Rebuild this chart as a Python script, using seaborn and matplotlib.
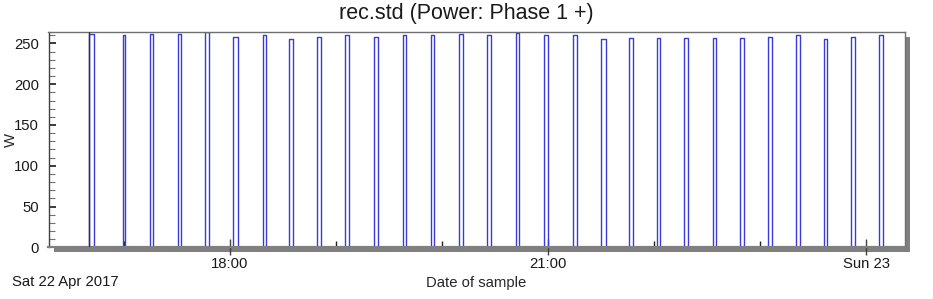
import matplotlib
matplotlib.use("Agg")
import matplotlib.pyplot as plt
import matplotlib.dates as mdates
import matplotlib.ticker as mticker
from matplotlib.patches import Rectangle
import pandas as pd
import seaborn as sns

# ---- data ----
pulse_on = [
    "2017-04-22 16:40:30", "2017-04-22 16:59:20", "2017-04-22 17:14:50", "2017-04-22 17:30:50",
    "2017-04-22 17:45:55", "2017-04-22 18:01:55", "2017-04-22 18:18:50", "2017-04-22 18:33:25",
    "2017-04-22 18:49:00", "2017-04-22 19:05:00", "2017-04-22 19:21:35", "2017-04-22 19:37:40",
    "2017-04-22 19:53:30", "2017-04-22 20:09:40", "2017-04-22 20:25:40", "2017-04-22 20:41:40",
    "2017-04-22 20:57:40", "2017-04-22 21:14:05", "2017-04-22 21:30:10", "2017-04-22 21:45:50",
    "2017-04-22 22:01:20", "2017-04-22 22:16:55", "2017-04-22 22:33:00", "2017-04-22 22:48:25",
    "2017-04-22 23:04:25", "2017-04-22 23:20:05", "2017-04-22 23:35:55", "2017-04-22 23:51:10",
    "2017-04-23 00:07:10",
]
pulse_off = [
    "2017-04-22 16:43:05", "2017-04-22 17:00:35", "2017-04-22 17:16:20", "2017-04-22 17:32:05",
    "2017-04-22 17:48:05", "2017-04-22 18:04:20", "2017-04-22 18:20:10", "2017-04-22 18:35:30",
    "2017-04-22 18:51:30", "2017-04-22 19:07:20", "2017-04-22 19:23:30", "2017-04-22 19:39:30",
    "2017-04-22 19:55:25", "2017-04-22 20:11:35", "2017-04-22 20:27:35", "2017-04-22 20:43:35",
    "2017-04-22 21:00:00", "2017-04-22 21:16:05", "2017-04-22 21:32:30", "2017-04-22 21:48:05",
    "2017-04-22 22:03:10", "2017-04-22 22:19:10", "2017-04-22 22:35:10", "2017-04-22 22:50:40",
    "2017-04-22 23:06:40", "2017-04-22 23:22:20", "2017-04-22 23:38:00", "2017-04-22 23:53:50",
    "2017-04-23 00:09:30",
]
pulse_peak = [261, 260, 262, 261, 264, 258, 260, 255, 258, 260, 258, 260, 260, 261, 260,
              263, 260, 260, 256, 257, 257, 257, 257, 257, 258, 260, 256, 258, 260]
series_end = "2017-04-23 00:11:10"
marker_time = "2017-04-22 16:40:25"

x_range = ["2017-04-22 16:17:22", "2017-04-23 00:21:43"]
y_range = [0, 264]
xtick_times = ["2017-04-22 18:00", "2017-04-22 21:00", "2017-04-23 00:00"]
xtick_labels = ["18:00", "21:00", "Sun 23"]
ytick_values = [0, 50, 100, 150, 200, 250]
title_text = "rec.std (Power: Phase 1 +)"
xlabel_text = "Date of sample"
ylabel_text = "W"
date_text = "Sat 22 Apr 2017"

# ---- build the trace table ----
times, watts = [], []
for on, off, pk in zip(pulse_on, pulse_off, pulse_peak):
    times += [on, on, off, off]
    watts += [0, pk, pk, 0]
times.append(series_end)
watts.append(0)
df = pd.DataFrame({"time": pd.to_datetime(times), "W": watts})

# ---- styling ----
sns.set_theme(style="white")
plt.rcParams["font.family"] = ["Liberation Sans", "DejaVu Sans"]
plt.rcParams["text.color"] = "#1a1a1a"

W, H = 933, 299
fig = plt.figure(figsize=(W / 100, H / 100), dpi=100)
fig.patch.set_facecolor("white")
left, right, top, bottom = 48.5, 904.7, 32.0, 247.3
ax = fig.add_axes([left / W, 1 - bottom / H, (right - left) / W, (bottom - top) / H])
ax.set_facecolor("white")

# drop shadow behind the plot frame
fig.add_artist(Rectangle(((left + 5) / W, 1 - (bottom + 5) / H),
                         (right - left) / W, (bottom - top) / H,
                         transform=fig.transFigure, facecolor="#808080",
                         edgecolor="none", zorder=-1))

sns.lineplot(data=df, x="time", y="W", estimator=None, sort=False,
             color="#3a3ad8", linewidth=1.0, ax=ax)
ax.axvline(pd.to_datetime(marker_time), color="#303030", linewidth=1.0, zorder=3)

ax.set_xlim(pd.to_datetime(x_range[0]), pd.to_datetime(x_range[1]))
ax.set_ylim(*y_range)

# x ticks
ax.xaxis.set_major_locator(mticker.FixedLocator(mdates.date2num(pd.to_datetime(xtick_times))))
ax.xaxis.set_major_formatter(mticker.FixedFormatter(xtick_labels))
ax.xaxis.set_minor_locator(mdates.HourLocator())
ax.tick_params(axis="x", which="major", direction="inout", length=12, width=1,
               color="#404040", labelsize=10.7, pad=1, labelcolor="#1a1a1a")
ax.tick_params(axis="x", which="minor", direction="in", length=4, width=1, color="#202020")

# y ticks
ax.yaxis.set_major_locator(mticker.FixedLocator(ytick_values))
ax.yaxis.set_minor_locator(mticker.MultipleLocator(10))
ax.tick_params(axis="y", which="major", direction="in", length=5, width=1.2,
               color="#1a1a1a", labelsize=10.7, pad=7, labelcolor="#1a1a1a")
ax.tick_params(axis="y", which="minor", direction="in", length=4, width=0.8, color="#707070")
ax.tick_params(left=True, bottom=True, which="both")

for side in ["top", "right"]:
    ax.spines[side].set_color("#707070")
    ax.spines[side].set_linewidth(1.0)
ax.spines["left"].set_color("#404040")
ax.spines["left"].set_linewidth(1.0)
ax.spines["bottom"].set_color("#808080")
ax.spines["bottom"].set_linewidth(1.6)
for s in ax.spines.values():
    s.set_visible(True)

ax.set_xlabel(xlabel_text, fontsize=10.7)
ax.xaxis.set_label_coords(0.5, -0.166)
ax.xaxis.label.set_va("center")
ax.set_ylabel(ylabel_text, fontsize=10.7)
ax.yaxis.set_label_coords(-0.0435, 0.5)
ax.yaxis.label.set_va("center")

fig.text(0.5, 1 - 13.5 / H, title_text, ha="center", va="center", fontsize=15.5)
fig.text(12 / W, 1 - 282 / H, date_text, ha="left", va="center", fontsize=10.7)

fig.savefig("out.png", dpi=100)
